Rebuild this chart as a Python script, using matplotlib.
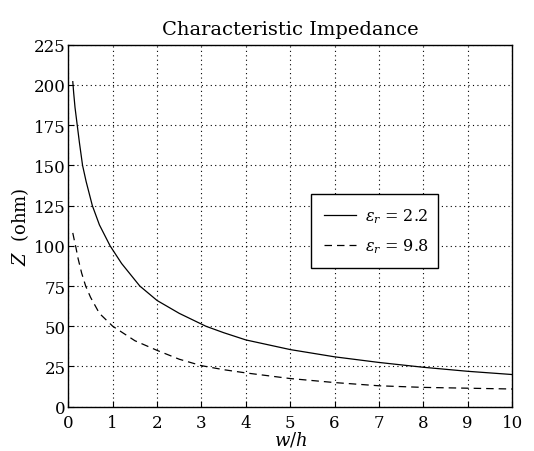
import matplotlib
matplotlib.use("Agg")
import matplotlib.pyplot as plt

# values
WH_22 = [0.1, 0.12, 0.15, 0.2, 0.25, 0.32, 0.4, 0.54, 0.7, 0.94, 1.2, 1.61, 2.0,
         2.5, 3.1, 3.5, 4.0, 5.0, 6.0, 7.0, 8.0, 9.0, 10.0]
Z_22 = [202, 195, 186, 175, 164, 150, 140, 125, 113, 100, 89, 75, 66,
        58, 50, 46, 41.5, 35.5, 31, 27.5, 24.5, 22, 20]

WH_98 = [0.1, 0.13, 0.17, 0.22, 0.3, 0.39, 0.5, 0.7, 1.0, 1.5, 2.0, 2.5, 3.0,
         3.5, 4.0, 5.0, 6.0, 7.0, 8.0, 9.0, 10.0]
Z_98 = [108, 104, 99, 92, 83, 75, 68, 58, 50, 41, 35, 29.5, 25.5,
        23, 21, 17.5, 15, 13, 12, 11.5, 11]

LABELS = [r"$\varepsilon_r$ = 2.2", r"$\varepsilon_r$ = 9.8"]
XTICKS = list(range(0, 11))
YTICKS = list(range(0, 226, 25))

plt.rcParams["font.family"] = "DejaVu Serif"
plt.rcParams["mathtext.fontset"] = "dejavuserif"

fig = plt.figure(figsize=(5.34, 4.52), dpi=100)
ax = fig.add_axes([0.128, 0.098, 0.831, 0.801])

ax.plot(WH_22, Z_22, "k-", lw=0.9, label=LABELS[0])
ax.plot(WH_98, Z_98, "k--", lw=0.9, dashes=(6, 4), label=LABELS[1])

ax.set_xlim(0, 10)
ax.set_ylim(0, 225)
ax.set_xticks(XTICKS)
ax.set_yticks(YTICKS)
ax.tick_params(direction="in", length=4, labelsize=12, pad=2)
ax.tick_params(axis="x", pad=5)
ax.grid(True, color="k", linestyle=(0, (1, 3)), linewidth=0.8)
for s in ax.spines.values():
    s.set_linewidth(1.0)

ax.set_title("Characteristic Impedance", fontsize=14, pad=8)
ax.set_xlabel(r"$w/h$", fontsize=13, labelpad=-1)
ax.set_ylabel(r"$Z$  (ohm)", fontsize=13, labelpad=2)

leg = ax.legend(loc="lower left", bbox_to_anchor=(0.547, 0.384, 0.286, 0.183),
                mode="expand", borderaxespad=0, fontsize=11.5, frameon=True,
                fancybox=False, edgecolor="k", framealpha=1, handlelength=2.0,
                handletextpad=0.6, borderpad=0.8, labelspacing=0.7)
leg.get_frame().set_linewidth(1.0)

fig.savefig("out.png", dpi=100)
